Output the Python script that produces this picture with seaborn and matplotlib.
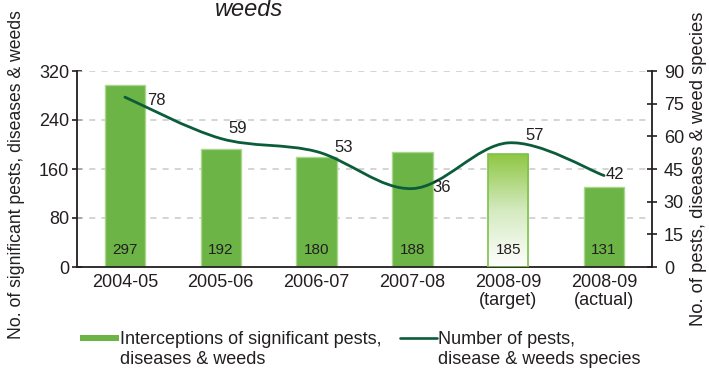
import numpy as np
import pandas as pd
import matplotlib
matplotlib.use("Agg")
import matplotlib.pyplot as plt
from matplotlib.path import Path
from matplotlib.patches import PathPatch, Patch, Rectangle
from matplotlib.lines import Line2D
from matplotlib.colors import LinearSegmentedColormap
import seaborn as sns

# --- data -------------------------------------------------------------
years = ["2004-05", "2005-06", "2006-07", "2007-08", "2008-09\n(target)", "2008-09\n(actual)"]
interceptions = [297, 192, 180, 188, 185, 131]
species = [78, 59, 53, 36, 57, 42]
bar_label = "Interceptions of significant pests,\ndiseases & weeds"
line_label = "Number of pests,\ndisease & weeds species"

# label nudges for the species values (pixels: dx, dy)
species_offsets = [(22, -3), (8, 10), (18, 4), (20, 1), (17, 7), (2, 1)]

BAR_GREEN = "#6cb445"
BAR_EDGE = "#a9d68c"
LINE_GREEN = "#0b5c3a"
TEXT = "#231f20"
LEG_FS = 13

sns.set_theme(style="white")
plt.rcParams["font.family"] = ["Liberation Sans", "DejaVu Sans"]
plt.rcParams["text.color"] = TEXT
plt.rcParams["axes.labelcolor"] = TEXT
plt.rcParams["xtick.color"] = TEXT
plt.rcParams["ytick.color"] = TEXT

df = pd.DataFrame({"year": years, "interceptions": interceptions, "species": species})

fig = plt.figure(figsize=(7.09, 3.76), dpi=100)
ax = fig.add_axes([77 / 709, 1 - 267 / 376, 575 / 709, 196 / 376])

sns.barplot(data=df, x="year", y="interceptions", ax=ax, color=BAR_GREEN,
            saturation=1, width=0.42, edgecolor=BAR_EDGE, linewidth=1.0, zorder=2)

# target bar: green-to-white gradient fill with an outline
tgt = ax.patches[4]
tgt.set_facecolor("none")
tgt.set_edgecolor("#7dc24b")
tgt.set_linewidth(1.2)
tgt.set_zorder(3)
x0 = tgt.get_x()
w = tgt.get_width()
h = tgt.get_height()
grad_cmap = LinearSegmentedColormap.from_list("fade", ["#ffffff", "#d4eac0", "#8ec640"])
grad = np.linspace(0, 1, 256).reshape(-1, 1)
im = ax.imshow(grad, cmap=grad_cmap, aspect="auto", origin="lower",
               extent=[x0, x0 + w, 0, h], zorder=2)
im.set_clip_path(tgt)

ax.set_xlim(-0.5, len(years) - 0.5)
ax.set_ylim(0, 320)
ax.set_yticks([0, 80, 160, 240, 320])
ax.set_xlabel("")
ax.set_ylabel("No. of significant pests, diseases & weeds", fontsize=12.7)
ax.yaxis.set_label_coords(-0.09, 0.474)

# dashed grid lines
for v in [80, 160, 240, 320]:
    ax.axhline(v, color="#c9c9c9", lw=1.1, ls=(0, (4, 4)), zorder=1)

# ticks: category boundaries marked with crossing ticks
ax.set_xticks(range(len(years)))
ax.set_xticklabels(years, fontsize=13, linespacing=1.05)
ax.set_xticks(np.arange(-0.5, len(years), 1.0), minor=True)
ax.tick_params(axis="x", which="major", length=0, pad=5)
ax.tick_params(axis="x", which="minor", length=7, width=1.2, direction="inout", color=TEXT)
ax.tick_params(axis="y", length=7, width=1.2, direction="inout", pad=2, labelsize=13, color=TEXT, left=True)

for s in ["top", "right"]:
    ax.spines[s].set_visible(False)
for s in ["left", "bottom"]:
    ax.spines[s].set_color(TEXT)
    ax.spines[s].set_linewidth(1.3)

# bar values inside the bars
for i, v in enumerate(interceptions):
    ax.text(i, 27, f"{v}", ha="center", va="center", fontsize=11, color=TEXT, zorder=5)

# --- secondary axis: species counts as a smoothed line ---------------
ax2 = ax.twinx()
ax2.set_ylim(0, 90)
ax2.set_yticks(np.arange(0, 91, 15))
ax2.tick_params(axis="y", length=7, width=1.2, direction="inout", pad=5, labelsize=13, color=TEXT, right=True)
for s in ["top", "left", "bottom"]:
    ax2.spines[s].set_visible(False)
ax2.spines["right"].set_color(TEXT)
ax2.spines["right"].set_linewidth(1.3)
ax2.set_ylabel("No. of pests, diseases & weed species", fontsize=13.2)
ax2.yaxis.set_label_coords(1.066, 0.5)
ax2.grid(False)

xs = np.arange(len(species), dtype=float)
ys = np.asarray(species, dtype=float)
pts = np.column_stack([xs, ys])
ext = np.vstack([pts[0], pts, pts[-1]])
verts = [tuple(pts[0])]
codes = [Path.MOVETO]
for i in range(len(pts) - 1):
    p0, p1, p2, p3 = ext[i], ext[i + 1], ext[i + 2], ext[i + 3]
    c1 = p1 + (p2 - p0) / 6.0
    c2 = p2 - (p3 - p1) / 6.0
    verts += [tuple(c1), tuple(c2), tuple(p2)]
    codes += [Path.CURVE4] * 3
ax2.add_patch(PathPatch(Path(verts, codes), fill=False, edgecolor=LINE_GREEN,
                        lw=2.0, capstyle="round", zorder=4))

for i, v in enumerate(species):
    dx, dy = species_offsets[i]
    ax2.annotate(f"{v}", (i, v), xytext=(dx * 0.72, dy * 0.72), textcoords="offset points",
                 ha="left", va="center", fontsize=12, color=TEXT, zorder=6)


# --- legend ------------------------------------------------------------
class FirstLineHandler:
    """Legend key drawn level with the first line of a two-line label."""

    def __init__(self, kind):
        self.kind = kind

    def legend_artist(self, legend, orig_handle, fontsize, handlebox):
        width = handlebox.width
        yc = 0.98 * fontsize
        if self.kind == "bar":
            hh = 4.4
            art = Rectangle((0, yc - hh / 2), width, hh, facecolor=orig_handle.get_facecolor(),
                            edgecolor="none", transform=handlebox.get_transform())
        else:
            art = Line2D([0, width], [yc, yc], color=orig_handle.get_color(),
                         lw=orig_handle.get_linewidth(), transform=handlebox.get_transform())
        handlebox.add_artist(art)
        return art


bar_handle = Patch(facecolor=BAR_GREEN, edgecolor="none")
line_handle = Line2D([0], [0], color=LINE_GREEN, lw=1.9)
fig.legend(handles=[bar_handle], labels=[bar_label], loc="upper left",
           bbox_to_anchor=(80 / 709, 1 - 331 / 376), frameon=False, fontsize=LEG_FS,
           handlelength=2.15, handletextpad=0.08, borderpad=0, borderaxespad=0,
           handler_map={Patch: FirstLineHandler("bar")})
fig.legend(handles=[line_handle], labels=[line_label], loc="upper left",
           bbox_to_anchor=(400 / 709, 1 - 331 / 376), frameon=False, fontsize=LEG_FS,
           handlelength=2.05, handletextpad=0.08, borderpad=0, borderaxespad=0,
           handler_map={Line2D: FirstLineHandler("line")})

# remaining part of the title
fig.text(249 / 709, 1 - 16 / 376, "weeds", ha="center", va="baseline",
         fontsize=17, style="italic", color=TEXT)

fig.savefig("out.png", dpi=100)
